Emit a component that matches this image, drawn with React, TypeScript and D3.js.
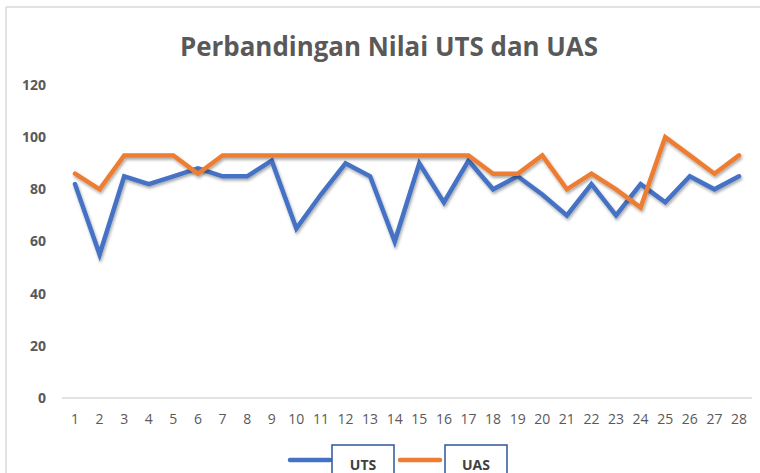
import React from "react";
import * as d3 from "d3";

const categories = Array.from({ length: 28 }, (_, i) => String(i + 1));
const utsValues = [82, 55, 85, 82, 85, 88, 85, 85, 91, 65, 78, 90, 85, 60, 90, 75, 91, 80, 85, 78, 70, 82, 70, 82, 75, 85, 80, 85];
const uasValues = [86, 80, 93, 93, 93, 86, 93, 93, 93, 93, 93, 93, 93, 93, 93, 93, 93, 86, 86, 93, 80, 86, 80, 73, 100, 93, 86, 93];
const yTicks = [0, 20, 40, 60, 80, 100, 120];
const seriesNames = ["UTS", "UAS"];

const W = 760;
const H = 473;

export default function App() {
  const x = d3.scalePoint<string>().domain(categories).range([75, 739]);
  const y = d3.scaleLinear().domain([0, 120]).range([398, 85]);
  const line = d3
    .line<number>()
    .x((_, i) => x(categories[i]) as number)
    .y((d) => y(d));

  const series = [
    { name: seriesNames[0], values: utsValues, color: "#4472C4" },
    { name: seriesNames[1], values: uasValues, color: "#ED7D31" },
  ];

  const font = "Open Sans, Liberation Sans, sans-serif";

  return (
    <svg width={W} height={H} style={{ position: "absolute", left: 0, top: 0, background: "#fff" }}>
      <defs>
        <filter id="shadow" x="-5%" y="-20%" width="110%" height="140%">
          <feDropShadow dx="1" dy="2" stdDeviation="1.5" floodColor="#000" floodOpacity="0.35" />
        </filter>
      </defs>
      {/* chart border */}
      <line x1={6} x2={W} y1={7} y2={7} stroke="#d9d9d9" strokeWidth={1.5} />
      <line x1={6} x2={6} y1={7} y2={H} stroke="#d9d9d9" strokeWidth={1.5} />
      <text x={389} y={56} textAnchor="middle" fontFamily={font} fontWeight="bold" fontSize={26} fill="#595959" textLength={418} lengthAdjust="spacingAndGlyphs">
        Perbandingan Nilai UTS dan UAS
      </text>
      {/* y axis labels */}
      {yTicks.map((t) => (
        <text key={t} x={46} y={y(t)} dy="0.35em" textAnchor="end" fontFamily={font} fontWeight="bold" fontSize={14} fill="#595959">
          {t}
        </text>
      ))}
      {/* baseline */}
      <line x1={62} x2={752} y1={y(0)} y2={y(0)} stroke="#d9d9d9" strokeWidth={1.5} />
      {/* x labels */}
      {categories.map((c) => (
        <text key={c} x={x(c)} y={y(0) + 21} dy="0.35em" textAnchor="middle" fontFamily={font} fontSize={14} fill="#595959">
          {c}
        </text>
      ))}
      {/* lines */}
      {series.map((s) => (
        <path
          key={s.name}
          d={line(s.values) || ""}
          fill="none"
          stroke={s.color}
          strokeWidth={4.5}
          strokeLinejoin="miter"
          strokeLinecap="round"
          filter="url(#shadow)"
        />
      ))}
      {/* legend */}
      {series.map((s, i) => {
        const lx = 290 + i * 110;
        const bx = 332 + i * 113;
        return (
          <g key={s.name}>
            <line x1={lx} x2={lx + 40} y1={460} y2={460} stroke={s.color} strokeWidth={4.5} strokeLinecap="round" />
            <rect x={bx} y={445} width={62} height={40} fill="#fff" stroke="#2F5597" strokeWidth={1.5} />
            <text x={bx + 31} y={470} textAnchor="middle" fontFamily={font} fontWeight="bold" fontSize={14} fill="#404040">
              {s.name}
            </text>
          </g>
        );
      })}
    </svg>
  );
}
